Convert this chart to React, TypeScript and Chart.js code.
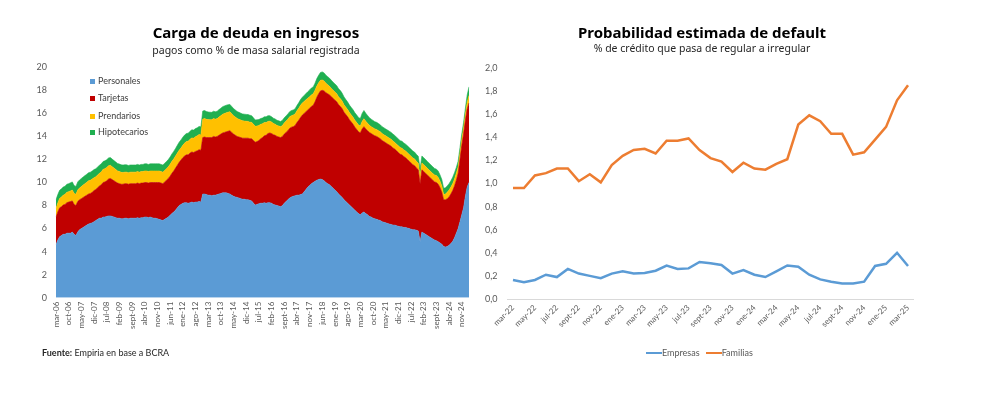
import React, { useEffect, useRef } from "react";
import { Chart, registerables } from "chart.js";

Chart.register(...registerables);

// ---------- categories ----------
const MONTHS_ES = ["ene", "feb", "mar", "abr", "may", "jun", "jul", "ago", "sept", "oct", "nov", "dic"];

function monthRange(startYear: number, startMonth: number, count: number): string[] {
  const out: string[] = [];
  for (let i = 0; i < count; i++) {
    const m = (startMonth + i) % 12;
    const y = startYear + Math.floor((startMonth + i) / 12);
    out.push(`${MONTHS_ES[m]}-${String(y % 100).padStart(2, "0")}`);
  }
  return out;
}

// Left chart: mar-06 .. mar-25 (monthly)
const debtMonths = monthRange(2006, 2, 229);
const debtTickEvery = 7;
const debtYMin = 0;
const debtYMax = 20;
const debtYStep = 2;

// rows: 2006 (mar-dic), 2007 ... 2024, 2025 (ene-mar)
const personales = [
  4.6, 5.0, 5.3, 5.4, 5.5, 5.5, 5.6, 5.6, 5.6, 5.7,
  5.5, 5.4, 5.7, 5.9, 6.0, 6.1, 6.2, 6.3, 6.4, 6.45, 6.5, 6.6,
  6.7, 6.8, 6.9, 6.9, 7.0, 7.0, 7.05, 7.1, 7.1, 7.05, 7.0, 6.95,
  6.9, 6.9, 6.85, 6.85, 6.9, 6.9, 6.85, 6.9, 6.9, 6.9, 6.9, 6.95,
  6.9, 6.95, 6.95, 7.0, 7.0, 6.95, 7.0, 6.95, 6.9, 6.9, 6.85, 6.8,
  6.75, 6.7, 6.8, 6.9, 7.0, 7.15, 7.3, 7.45, 7.6, 7.8, 8.0, 8.1,
  8.2, 8.25, 8.25, 8.2, 8.25, 8.3, 8.25, 8.3, 8.3, 8.35, 8.3, 9.0,
  9.0, 8.95, 8.9, 8.9, 8.85, 8.9, 8.9, 8.95, 9.0, 9.05, 9.1, 9.1,
  9.1, 9.05, 9.0, 8.9, 8.8, 8.75, 8.7, 8.65, 8.6, 8.55, 8.55, 8.5,
  8.5, 8.45, 8.4, 8.2, 8.05, 8.1, 8.15, 8.2, 8.2, 8.25, 8.2, 8.25,
  8.25, 8.2, 8.1, 8.05, 8.0, 7.95, 7.9, 8.0, 8.2, 8.35, 8.5, 8.65,
  8.75, 8.8, 8.85, 8.9, 8.9, 8.95, 9.0, 9.2, 9.4, 9.6, 9.75, 9.9,
  10.0, 10.1, 10.2, 10.25, 10.3, 10.25, 10.15, 10.0, 9.9, 9.8, 9.65, 9.5,
  9.35, 9.2, 9.0, 8.85, 8.7, 8.5, 8.35, 8.2, 8.05, 7.9, 7.75, 7.6,
  7.45, 7.3, 7.2, 7.35, 7.45, 7.3, 7.2, 7.05, 7.0, 6.9, 6.85, 6.8,
  6.75, 6.7, 6.6, 6.55, 6.5, 6.45, 6.4, 6.35, 6.3, 6.3, 6.25, 6.2,
  6.15, 6.15, 6.1, 6.1, 6.05, 6.0, 5.95, 5.9, 5.9, 5.85, 5.8, 4.85,
  5.7, 5.6, 5.5, 5.4, 5.3, 5.2, 5.1, 5.0, 4.95, 4.85, 4.75, 4.65,
  4.45, 4.4, 4.45, 4.55, 4.7, 4.9, 5.2, 5.6, 6.0, 6.6, 7.2, 7.8,
  8.8, 9.6, 10.0,
];

const tarjetas = [
  2.4, 2.45, 2.5, 2.5, 2.55, 2.6, 2.65, 2.7, 2.75, 2.7,
  2.6, 2.6, 2.65, 2.6, 2.6, 2.6, 2.6, 2.6, 2.6, 2.6, 2.65, 2.7,
  2.7, 2.75, 2.8, 2.9, 3.0, 3.05, 3.1, 3.2, 3.25, 3.2, 3.15, 3.1,
  3.05, 3.0, 3.0, 3.0, 3.0, 3.0, 3.0, 3.0, 3.0, 3.0, 3.0, 3.0,
  3.0, 3.0, 3.0, 3.0, 3.0, 3.0, 3.0, 3.05, 3.1, 3.1, 3.15, 3.2,
  3.2, 3.2, 3.25, 3.3, 3.35, 3.4, 3.5, 3.55, 3.65, 3.7, 3.75, 3.85,
  3.95, 4.05, 4.15, 4.2, 4.3, 4.35, 4.35, 4.4, 4.45, 4.5, 4.5, 4.9,
  4.95, 4.95, 5.0, 5.0, 5.05, 5.1, 5.05, 5.05, 5.1, 5.15, 5.2, 5.25,
  5.3, 5.4, 5.5, 5.45, 5.4, 5.35, 5.3, 5.3, 5.3, 5.3, 5.3, 5.35,
  5.35, 5.35, 5.4, 5.45, 5.45, 5.45, 5.5, 5.6, 5.7, 5.8, 5.9, 6.0,
  6.05, 6.05, 6.05, 6.05, 6.0, 6.0, 6.0, 6.0, 6.0, 6.0, 6.0, 6.05,
  6.05, 6.05, 6.1, 6.3, 6.5, 6.7, 6.85, 6.8, 6.75, 6.7, 6.7, 6.7,
  6.7, 6.9, 7.2, 7.45, 7.65, 7.75, 7.8, 7.8, 7.8, 7.8, 7.8, 7.8,
  7.8, 7.8, 7.75, 7.75, 7.7, 7.6, 7.55, 7.5, 7.4, 7.35, 7.3, 7.2,
  7.15, 7.1, 7.1, 7.3, 7.4, 7.35, 7.3, 7.3, 7.25, 7.25, 7.2, 7.2,
  7.15, 7.1, 7.05, 7.0, 6.95, 6.9, 6.85, 6.8, 6.7, 6.6, 6.5, 6.4,
  6.3, 6.25, 6.15, 6.05, 5.95, 5.85, 5.75, 5.65, 5.55, 5.4, 5.3, 5.05,
  5.4, 5.35, 5.3, 5.25, 5.2, 5.15, 5.1, 5.05, 5.05, 5.0, 4.8, 4.5,
  4.05, 4.1, 4.15, 4.2, 4.3, 4.4, 4.5, 4.6, 4.8, 5.4, 6.0, 6.4,
  6.6, 6.8, 6.9,
];

const prendarios = [
  0.75, 0.78, 0.82, 0.85, 0.85, 0.88, 0.9, 0.9, 0.92, 0.95,
  0.95, 0.98, 1.0, 1.02, 1.05, 1.08, 1.1, 1.12, 1.15, 1.15, 1.15, 1.12,
  1.1, 1.1, 1.1, 1.12, 1.14, 1.15, 1.15, 1.15, 1.15, 1.12, 1.1, 1.08,
  1.05, 1.05, 1.03, 1.02, 1.0, 1.0, 1.0, 1.0, 1.0, 1.0, 1.0, 1.0,
  1.0, 1.0, 1.0, 1.0, 1.0, 1.0, 1.0, 1.0, 1.0, 1.0, 1.0, 1.0,
  1.0, 1.0, 1.0, 1.0, 1.02, 1.03, 1.04, 1.05, 1.05, 1.05, 1.05, 1.05,
  1.08, 1.12, 1.15, 1.18, 1.2, 1.22, 1.25, 1.28, 1.3, 1.32, 1.33, 1.6,
  1.6, 1.58, 1.56, 1.55, 1.55, 1.55, 1.55, 1.55, 1.58, 1.6, 1.62, 1.64,
  1.65, 1.65, 1.64, 1.62, 1.6, 1.58, 1.56, 1.54, 1.52, 1.5, 1.48, 1.46,
  1.45, 1.44, 1.42, 1.4, 1.38, 1.35, 1.3, 1.25, 1.2, 1.15, 1.1, 1.05,
  1.02, 1.0, 0.98, 0.96, 0.95, 0.95, 0.95, 0.95, 0.96, 0.98, 1.0, 1.0,
  1.0, 1.0, 1.0, 1.02, 1.04, 1.05, 1.05, 1.04, 1.03, 1.02, 1.0, 1.0,
  1.0, 1.0, 0.98, 0.95, 0.92, 0.9, 0.86, 0.82, 0.78, 0.75, 0.72, 0.7,
  0.7, 0.7, 0.68, 0.68, 0.66, 0.65, 0.64, 0.63, 0.62, 0.62, 0.61, 0.6,
  0.6, 0.6, 0.6, 0.65, 0.68, 0.66, 0.64, 0.62, 0.6, 0.6, 0.6, 0.6,
  0.6, 0.6, 0.6, 0.6, 0.6, 0.6, 0.6, 0.6, 0.6, 0.58, 0.58, 0.58,
  0.58, 0.58, 0.58, 0.58, 0.58, 0.58, 0.58, 0.58, 0.58, 0.58, 0.58, 0.65,
  0.6, 0.6, 0.6, 0.58, 0.58, 0.58, 0.58, 0.6, 0.6, 0.58, 0.56, 0.55,
  0.45, 0.5, 0.55, 0.6, 0.6, 0.6, 0.6, 0.6, 0.55, 0.5, 0.5, 0.5,
  0.5, 0.55, 0.65,
];

const hipotecarios = [
  0.75, 0.72, 0.7, 0.7, 0.7, 0.7, 0.7, 0.7, 0.7, 0.7,
  0.68, 0.68, 0.7, 0.7, 0.7, 0.7, 0.7, 0.7, 0.7, 0.7, 0.7, 0.7,
  0.7, 0.7, 0.7, 0.7, 0.68, 0.68, 0.68, 0.68, 0.66, 0.66, 0.65, 0.65,
  0.65, 0.65, 0.65, 0.64, 0.64, 0.63, 0.63, 0.62, 0.62, 0.62, 0.62, 0.62,
  0.62, 0.62, 0.62, 0.62, 0.62, 0.62, 0.62, 0.62, 0.62, 0.62, 0.62, 0.62,
  0.62, 0.62, 0.62, 0.62, 0.62, 0.63, 0.64, 0.65, 0.66, 0.68, 0.7, 0.7,
  0.7, 0.7, 0.7, 0.7, 0.7, 0.7, 0.7, 0.7, 0.7, 0.7, 0.7, 0.7,
  0.7, 0.68, 0.66, 0.65, 0.64, 0.64, 0.64, 0.64, 0.65, 0.65, 0.66, 0.66,
  0.66, 0.65, 0.64, 0.63, 0.62, 0.61, 0.6, 0.6, 0.6, 0.6, 0.6, 0.6,
  0.6, 0.6, 0.58, 0.56, 0.55, 0.54, 0.52, 0.5, 0.5, 0.5, 0.5, 0.5,
  0.48, 0.46, 0.45, 0.45, 0.45, 0.45, 0.45, 0.45, 0.45, 0.45, 0.45, 0.45,
  0.45, 0.45, 0.45, 0.46, 0.48, 0.5, 0.5, 0.52, 0.54, 0.56, 0.58, 0.6,
  0.6, 0.62, 0.64, 0.66, 0.68, 0.7, 0.7, 0.7, 0.7, 0.7, 0.7, 0.7,
  0.7, 0.7, 0.7, 0.7, 0.68, 0.68, 0.66, 0.66, 0.65, 0.65, 0.65, 0.65,
  0.65, 0.65, 0.65, 0.7, 0.72, 0.7, 0.68, 0.66, 0.65, 0.64, 0.63, 0.62,
  0.62, 0.61, 0.6, 0.6, 0.6, 0.6, 0.6, 0.6, 0.6, 0.6, 0.6, 0.6,
  0.6, 0.6, 0.6, 0.6, 0.6, 0.6, 0.6, 0.6, 0.6, 0.6, 0.6, 0.65,
  0.6, 0.6, 0.6, 0.6, 0.6, 0.58, 0.58, 0.57, 0.56, 0.56, 0.55, 0.55,
  0.55, 0.55, 0.55, 0.55, 0.55, 0.55, 0.55, 0.5, 0.5, 0.5, 0.5, 0.5,
  0.55, 0.65, 0.75,
];

// Right chart: mar-22 .. mar-25 (monthly)
const pdMonths = monthRange(2022, 2, 37);
const pdTickEvery = 2;
const pdYMin = 0;
const pdYMax = 2;
const pdYStep = 0.2;

const empresas = [
  0.165, 0.145, 0.165, 0.21, 0.19, 0.26, 0.22, 0.2, 0.18, 0.22,
  0.24, 0.22, 0.225, 0.245, 0.29, 0.26, 0.265, 0.32, 0.31, 0.294,
  0.22, 0.25, 0.21, 0.19, 0.24, 0.29, 0.28, 0.21, 0.17, 0.15,
  0.135, 0.135, 0.15, 0.286, 0.305, 0.4, 0.286,
];

const familias = [
  0.96, 0.96, 1.07, 1.09, 1.13, 1.13, 1.02, 1.08, 1.01, 1.16,
  1.24, 1.29, 1.3, 1.26, 1.37, 1.37, 1.39, 1.29, 1.22, 1.19,
  1.1, 1.18, 1.13, 1.12, 1.17, 1.21, 1.51, 1.59, 1.54, 1.43,
  1.43, 1.25, 1.27, 1.38, 1.49, 1.72, 1.85,
];

// ---------- styling ----------
const C_PERS = "#5B9BD5";
const C_TARJ = "#C00000";
const C_PREN = "#FFC000";
const C_HIPO = "#1FAF50";
const C_EMP = "#5B9BD5";
const C_FAM = "#ED7D31";
const TICK_COLOR = "#595959";
const TICK_FAMILY = "Lato, 'Open Sans', sans-serif";
const TITLE_FAMILY = "'Noto Sans', 'Open Sans', sans-serif";

const fmtComma = (v: number) => v.toFixed(1).replace(".", ",");

function DebtChart() {
  const ref = useRef<HTMLCanvasElement | null>(null);
  useEffect(() => {
    if (!ref.current) return;
    const mk = (label: string, data: number[], color: string, fill: any) => ({
      label,
      data,
      backgroundColor: color,
      borderColor: color,
      borderWidth: 0.6,
      pointRadius: 0,
      fill,
      tension: 0,
    });
    const chart = new Chart(ref.current, {
      type: "line",
      data: {
        labels: debtMonths,
        datasets: [
          mk("Personales", personales, C_PERS, "origin"),
          mk("Tarjetas", tarjetas, C_TARJ, "-1"),
          mk("Prendarios", prendarios, C_PREN, "-1"),
          mk("Hipotecarios", hipotecarios, C_HIPO, "-1"),
        ],
      },
      options: {
        responsive: false,
        animation: false,
        events: [],
        layout: { padding: { left: 0, top: 67.3, right: 21, bottom: 0 } },
        plugins: { legend: { display: false }, tooltip: { enabled: false } },
        scales: {
          x: {
            grid: { display: false, drawTicks: false },
            border: { display: false },
            ticks: {
              autoSkip: false,
              minRotation: 90,
              maxRotation: 90,
              padding: 4,
              color: TICK_COLOR,
              font: { size: 8, family: TICK_FAMILY },
              callback: (_v: any, i: number) => (i % debtTickEvery === 0 ? debtMonths[i] : ""),
            },
            afterFit: (s: any) => {
              s.height = 97.3;
            },
          },
          y: {
            stacked: true,
            min: debtYMin,
            max: debtYMax,
            grid: { display: false, drawTicks: false },
            border: { display: false },
            ticks: {
              stepSize: debtYStep,
              padding: 9,
              color: TICK_COLOR,
              font: { size: 9, family: TICK_FAMILY },
            },
            afterFit: (s: any) => {
              s.width = 56;
            },
          },
        },
      } as any,
    });
    return () => chart.destroy();
  }, []);
  return (
    <canvas
      ref={ref}
      width={490}
      height={395}
      style={{ position: "absolute", left: 0, top: 0, width: 490, height: 395 }}
    />
  );
}

function PdChart() {
  const ref = useRef<HTMLCanvasElement | null>(null);
  useEffect(() => {
    if (!ref.current) return;
    const chart = new Chart(ref.current, {
      type: "line",
      data: {
        labels: pdMonths,
        datasets: [
          {
            label: "Empresas",
            data: empresas,
            borderColor: C_EMP,
            backgroundColor: C_EMP,
            borderWidth: 2.5,
            pointRadius: 0,
            fill: false,
            tension: 0,
          },
          {
            label: "Familias",
            data: familias,
            borderColor: C_FAM,
            backgroundColor: C_FAM,
            borderWidth: 2.5,
            pointRadius: 0,
            fill: false,
            tension: 0,
          },
        ],
      },
      options: {
        responsive: false,
        animation: false,
        events: [],
        layout: { padding: { left: 0, top: 68, right: 26.5, bottom: 0 } },
        plugins: { legend: { display: false }, tooltip: { enabled: false } },
        scales: {
          x: {
            offset: true,
            grid: { display: false, drawTicks: false, offset: true },
            border: { display: true, color: "#D9D9D9", width: 1 },
            ticks: {
              autoSkip: false,
              minRotation: 45,
              maxRotation: 45,
              padding: 4,
              color: TICK_COLOR,
              font: { size: 8, family: TICK_FAMILY },
              callback: (_v: any, i: number) => (i % pdTickEvery === 0 ? pdMonths[i] : ""),
            },
            afterFit: (s: any) => {
              s.height = 96;
            },
          },
          y: {
            min: pdYMin,
            max: pdYMax,
            grid: { display: false, drawTicks: false },
            border: { display: false },
            ticks: {
              stepSize: pdYStep,
              padding: 10,
              color: TICK_COLOR,
              font: { size: 9, family: TICK_FAMILY },
              callback: (v: any) => fmtComma(Number(v)),
            },
            afterFit: (s: any) => {
              s.width = 37.5;
            },
          },
        },
      } as any,
    });
    return () => chart.destroy();
  }, []);
  return (
    <canvas
      ref={ref}
      width={470}
      height={395}
      style={{ position: "absolute", left: 470, top: 0, width: 470, height: 395 }}
    />
  );
}

const legendItem = (color: string, text: string, top: number) => (
  <div
    key={text}
    style={{
      position: "absolute",
      left: 90,
      top,
      display: "flex",
      alignItems: "center",
      fontFamily: TICK_FAMILY,
      fontSize: 9,
      color: "#404040",
      lineHeight: "12px",
      whiteSpace: "nowrap",
    }}
  >
    <span style={{ display: "inline-block", width: 5, height: 5, background: color, marginRight: 3 }} />
    {text}
  </div>
);

const lineLegendItem = (color: string, text: string) => (
  <span key={text} style={{ display: "inline-flex", alignItems: "center", marginRight: 6 }}>
    <span style={{ display: "inline-block", width: 16, height: 2, background: color }} />
    <span>{text}</span>
  </span>
);

export default function App() {
  return (
    <div
      style={{
        position: "fixed",
        left: 0,
        top: 0,
        width: 1000,
        height: 395,
        background: "#fff",
        overflow: "hidden",
      }}
    >
      <DebtChart />
      <PdChart />

      {/* left titles */}
      <div
        style={{
          position: "absolute",
          left: 56,
          width: 400,
          top: 23,
          textAlign: "center",
          fontFamily: TITLE_FAMILY,
          fontWeight: 700,
          fontSize: 15,
          lineHeight: "18px",
          color: "#000",
        }}
      >
        Carga de deuda en ingresos
      </div>
      <div
        style={{
          position: "absolute",
          left: 56,
          width: 400,
          top: 43,
          textAlign: "center",
          fontFamily: TITLE_FAMILY,
          fontSize: 10.5,
          lineHeight: "14px",
          color: "#262626",
        }}
      >
        pagos como % de masa salarial registrada
      </div>

      {/* right titles */}
      <div
        style={{
          position: "absolute",
          left: 502,
          width: 400,
          top: 23,
          textAlign: "center",
          fontFamily: TITLE_FAMILY,
          fontWeight: 700,
          fontSize: 15,
          lineHeight: "18px",
          color: "#000",
        }}
      >
        Probabilidad estimada de default
      </div>
      <div
        style={{
          position: "absolute",
          left: 502,
          width: 400,
          top: 41,
          textAlign: "center",
          fontFamily: TITLE_FAMILY,
          fontSize: 10.5,
          lineHeight: "14px",
          color: "#262626",
        }}
      >
        % de crédito que pasa de regular a irregular
      </div>

      {/* left legend */}
      {legendItem(C_PERS, "Personales", 75)}
      {legendItem(C_TARJ, "Tarjetas", 92)}
      {legendItem(C_PREN, "Prendarios", 110)}
      {legendItem(C_HIPO, "Hipotecarios", 126)}

      {/* right legend */}
      <div
        style={{
          position: "absolute",
          left: 646,
          top: 347,
          display: "flex",
          alignItems: "center",
          fontFamily: TICK_FAMILY,
          fontSize: 9,
          color: "#595959",
          lineHeight: "12px",
          whiteSpace: "nowrap",
        }}
      >
        {lineLegendItem(C_EMP, "Empresas")}
        {lineLegendItem(C_FAM, "Familias")}
      </div>

      {/* source */}
      <div
        style={{
          position: "absolute",
          left: 42,
          top: 347,
          fontFamily: TICK_FAMILY,
          fontSize: 9,
          lineHeight: "12px",
          color: "#262626",
          whiteSpace: "nowrap",
        }}
      >
        <b>Fuente:</b> Empiria en base a BCRA
      </div>
    </div>
  );
}
